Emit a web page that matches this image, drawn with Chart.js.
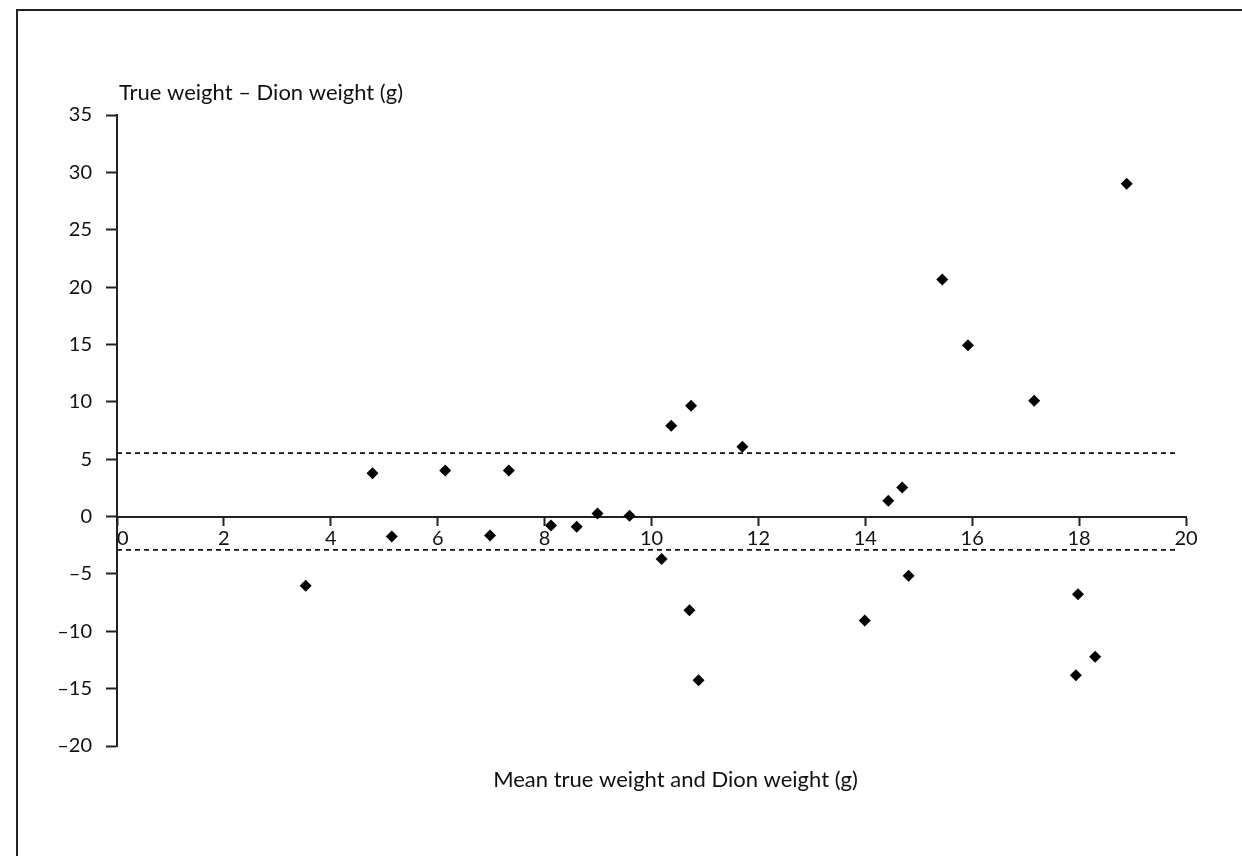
<!DOCTYPE html>
<html lang="en">
<head>
  <meta charset="UTF-8">
  <title>True weight vs Dion weight</title>
  <script src="https://cdn.jsdelivr.net/npm/chart.js"></script>
  <style>
    html, body {
      margin: 0;
      background: #ffffff;
      overflow: hidden;
      width: 1242px;
      height: 856px;
    }
    #frame {
      position: absolute;
      left: 16px;
      top: 9px;
      width: 1260px;
      height: 880px;
      border: 2px solid #222;
    }
    #plot {
      position: absolute;
      left: 0;
      top: 0;
    }
  </style>
</head>
<body>
  <div id="frame"></div>
  <canvas id="plot" width="1242" height="856"></canvas>

  <script>
    // mean of true and Dion weight (g) and their difference (g), one entry per item
    const meanWeight = [3.53, 4.78, 5.14, 6.14, 6.98, 7.33, 8.12, 8.60, 8.99, 9.59,
                        10.19, 10.37, 10.74, 10.71, 10.88, 11.70, 13.99, 14.43, 14.69, 14.81,
                        15.44, 15.92, 17.16, 17.98, 17.94, 18.30, 18.89];
    const weightDiff = [-6.04, 3.78, -1.74, 4.01, -1.66, 4.01, -0.78, -0.90, 0.26, 0.06,
                        -3.71, 7.91, 9.65, -8.16, -14.26, 6.08, -9.07, 1.37, 2.53, -5.17,
                        20.66, 14.94, 10.10, -6.77, -13.83, -12.21, 29.00];

    // limits of agreement (dashed lines) and the x range they cover
    const upperLimit = 5.53;
    const lowerLimit = -2.90;
    const limitSpan = [0, 19.85];

    const xTicks = [0, 2, 4, 6, 8, 10, 12, 14, 16, 18, 20];
    const yTicks = [-20, -15, -10, -5, 0, 5, 10, 15, 20, 25, 30, 35];

    const yCaption = "True weight \u2013 Dion weight (g)";
    const xCaption = "Mean true weight and Dion weight (g)";

    const fontFamily = "Lato, 'Open Sans', sans-serif";
    const ink = "#111";

    const points = meanWeight.map((x, i) => ({ x: x, y: weightDiff[i] }));
    const limitLine = v => limitSpan.map(x => ({ x: x, y: v }));

    // axis captions sit outside the usual title slots, so draw them here
    const captions = {
      id: "captions",
      afterDraw(chart) {
        const { ctx, chartArea } = chart;
        ctx.save();
        ctx.fillStyle = ink;
        ctx.font = "22px " + fontFamily;
        ctx.textBaseline = "alphabetic";
        ctx.textAlign = "left";
        ctx.fillText(yCaption, chartArea.left + 2, chartArea.top - 15);
        ctx.textAlign = "center";
        ctx.fillText(xCaption, (chartArea.left + chartArea.right) / 2 + 24, chartArea.bottom + 41);
        ctx.restore();
      }
    };

    const dashed = {
      type: "line",
      showLine: true,
      borderColor: "#111",
      borderWidth: 1.8,
      borderDash: [5, 4],
      pointRadius: 0,
      fill: false
    };

    new Chart(document.getElementById("plot").getContext("2d"), {
      type: "scatter",
      data: {
        datasets: [
          {
            label: "Difference",
            data: points,
            pointStyle: "rectRot",
            pointRadius: 6,
            backgroundColor: "#000",
            borderWidth: 0
          },
          Object.assign({ label: "Upper limit", data: limitLine(upperLimit) }, dashed),
          Object.assign({ label: "Lower limit", data: limitLine(lowerLimit) }, dashed)
        ]
      },
      options: {
        responsive: false,
        animation: false,
        devicePixelRatio: 1,
        layout: {
          padding: { top: 115, bottom: 110, left: 0, right: 56 }
        },
        plugins: {
          legend: { display: false },
          tooltip: { enabled: false }
        },
        scales: {
          x: {
            type: "linear",
            position: { y: 0 },
            min: 0,
            max: 20,
            afterBuildTicks: scale => { scale.ticks = xTicks.map(v => ({ value: v })); },
            afterFit: scale => { scale.height = 0; },
            ticks: {
              color: ink,
              font: { family: fontFamily, size: 20 },
              padding: 2,
              maxRotation: 0,
              callback: v => v === 0 ? "\u20070" : String(v)
            },
            grid: {
              drawOnChartArea: false,
              tickLength: 8,
              tickWidth: 2,
              tickColor: "#222"
            },
            border: { color: "#222", width: 2 }
          },
          y: {
            position: "left",
            min: -20,
            max: 35,
            afterBuildTicks: scale => { scale.ticks = yTicks.map(v => ({ value: v })); },
            afterFit: scale => { scale.width = 117; },
            ticks: {
              color: ink,
              font: { family: fontFamily, size: 20 },
              padding: 14,
              callback: v => v < 0 ? "\u2013" + Math.abs(v) : String(v)
            },
            grid: {
              drawOnChartArea: false,
              tickLength: 11,
              tickWidth: 2,
              tickColor: "#222"
            },
            border: { color: "#222", width: 2 }
          }
        }
      },
      plugins: [captions]
    });
  </script>
</body>
</html>
